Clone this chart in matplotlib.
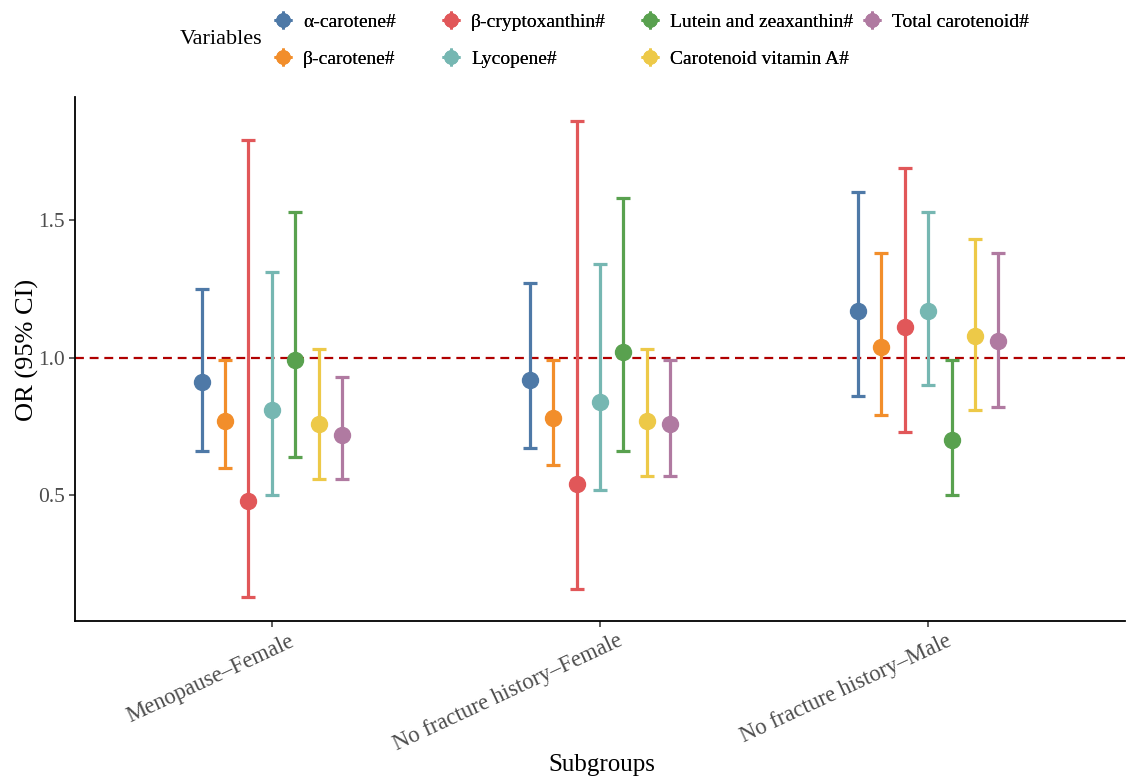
import matplotlib.pyplot as plt
from matplotlib.lines import Line2D
from matplotlib.legend_handler import HandlerTuple
from matplotlib.transforms import ScaledTranslation
import numpy as np

plt.rcParams["font.family"] = ["Liberation Serif", "DejaVu Serif"]

subgroups = ["Menopause–Female", "No fracture history–Female", "No fracture history–Male"]
variables = [
    "α-carotene#",
    "β-carotene#",
    "β-cryptoxanthin#",
    "Lycopene#",
    "Lutein and zeaxanthin#",
    "Carotenoid vitamin A#",
    "Total carotenoid#",
]
colors = ["#4E79A7", "#F28E2B", "#E15759", "#76B7B2", "#59A14F", "#EDC948", "#B07AA1"]

# rows: variables, columns: subgroups
or_est = [
    [0.91, 0.92, 1.17],
    [0.77, 0.78, 1.04],
    [0.48, 0.54, 1.11],
    [0.81, 0.84, 1.17],
    [0.99, 1.02, 0.70],
    [0.76, 0.77, 1.08],
    [0.72, 0.76, 1.06],
]
ci_low = [
    [0.66, 0.67, 0.86],
    [0.60, 0.61, 0.79],
    [0.13, 0.16, 0.73],
    [0.50, 0.52, 0.90],
    [0.64, 0.66, 0.50],
    [0.56, 0.57, 0.81],
    [0.56, 0.57, 0.82],
]
ci_high = [
    [1.25, 1.27, 1.60],
    [0.99, 0.99, 1.38],
    [1.79, 1.86, 1.69],
    [1.31, 1.34, 1.53],
    [1.53, 1.58, 0.99],
    [1.03, 1.03, 1.43],
    [0.93, 0.99, 1.38],
]

est = np.array(or_est)
lo = np.array(ci_low)
hi = np.array(ci_high)

fig = plt.figure(figsize=(11.26, 7.77), dpi=100)
ax = fig.add_axes([0.0666, 0.2008, 0.9325, 0.6744])

n_var = len(variables)
dodge = 0.5 / n_var
xbase = np.arange(1, len(subgroups) + 1)

ax.axhline(1.0, color="#B00000", lw=1.6, ls=(0, (4, 2.6)), zorder=1)

handles = []
for i, (var, col) in enumerate(zip(variables, colors)):
    x = xbase + (i - (n_var - 1) / 2) * dodge
    ax.errorbar(x, est[i], yerr=[est[i] - lo[i], hi[i] - est[i]], fmt="none",
                ecolor=col, elinewidth=2.3, capsize=5, capthick=2.3, zorder=2)
    ax.plot(x, est[i], "o", color=col, ms=11.5, zorder=3)
    h_cross = Line2D([], [], color=col, marker="+", ms=13, mew=2, ls="none")
    h_dot = Line2D([], [], color=col, marker="o", ms=9.5, ls="none")
    handles.append((h_cross, h_dot))

pad = 0.05 * (hi.max() - lo.min())
ax.set_ylim(lo.min() - pad, hi.max() + pad)
ax.set_xlim(0.4, len(subgroups) + 0.6)
ax.set_yticks([0.5, 1.0, 1.5])
ax.set_yticklabels(["0.5", "1.0", "1.5"])
ax.set_xticks(xbase)
ax.set_xticklabels([])

# rotated subgroup labels, right end just past the tick
offset = ScaledTranslation(0.24, -0.24, fig.dpi_scale_trans)
for xi, name in zip(xbase, subgroups):
    ax.text(xi, 0, name, transform=ax.get_xaxis_transform() + offset,
            rotation=25, rotation_mode="anchor", ha="right", va="baseline",
            fontsize=16.3, color="#4D4D4D")

ax.tick_params(axis="both", labelsize=15.5, labelcolor="#4D4D4D", color="#333333",
               length=4, width=1.1)
for s in ["top", "right"]:
    ax.spines[s].set_visible(False)
for s in ["left", "bottom"]:
    ax.spines[s].set_linewidth(1.3)

fig.text(27 / 1126, 1 - 350 / 777, "OR (95% CI)", fontsize=19, rotation=90,
         ha="center", va="center")
fig.text(602 / 1126, 1 - 765 / 777, "Subgroups", fontsize=18, ha="center", va="center")

# legend: ggplot-style, title on the left, 2 rows filled column by column
fig.text(0.16, 0.949, "Variables", fontsize=16, ha="left", va="center")
col_x = [270, 438, 637, 859]
for c, x0 in enumerate(col_x):
    h = handles[2 * c:2 * c + 2]
    lab = variables[2 * c:2 * c + 2]
    leg = fig.legend(h, lab, handler_map={tuple: HandlerTuple(ndivide=1)},
                     loc="upper left", bbox_to_anchor=(x0 / 1126, 1 - 13 / 777),
                     frameon=False, fontsize=14, handlelength=1.3, handletextpad=0.4,
                     labelspacing=1.0, borderaxespad=0, borderpad=0)
    fig.add_artist(leg)

fig.savefig("out.png", dpi=100)
